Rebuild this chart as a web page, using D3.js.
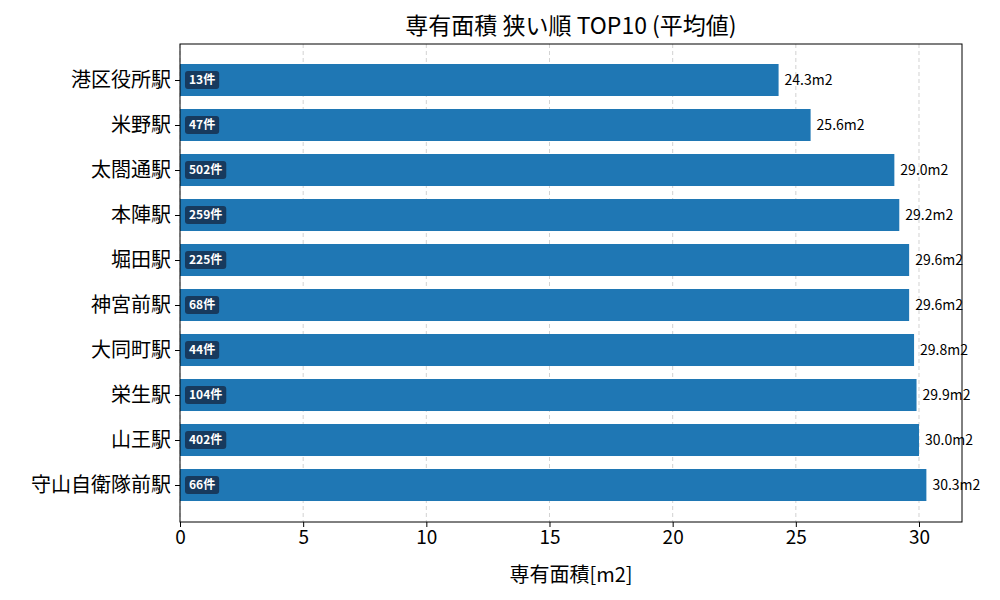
<!DOCTYPE html>
<html lang="ja">
<head>
<meta charset="utf-8">
<script src="https://d3js.org/d3.v7.min.js"></script>
<style>
body { margin: 0; background: #fff; }
text { font-family: "Noto Sans CJK JP", "Noto Sans", sans-serif; }
</style>
</head>
<body>
<script>
const stations = ["港区役所駅", "米野駅", "太閤通駅", "本陣駅", "堀田駅", "神宮前駅", "大同町駅", "栄生駅", "山王駅", "守山自衛隊前駅"];
const areas = [24.3, 25.6, 29.0, 29.2, 29.6, 29.6, 29.8, 29.9, 30.0, 30.3];
const counts = [13, 47, 502, 259, 225, 68, 44, 104, 402, 66];
const xTicks = [0, 5, 10, 15, 20, 25, 30];

const BLUE = "#1f77b4";
const W = 1000, H = 600;
const L = 180, R = 962, T = 44, B = 522;

const svg = d3.select("body").append("svg").attr("width", W).attr("height", H);

const x = d3.scaleLinear().domain([0, (R - L) / 24.633]).range([L, R]);
const y = d3.scaleLinear().domain([-0.8, 9.822]).range([T, B]);
const barH = 32;

// grid
svg.append("g").selectAll("line").data(xTicks).join("line")
    .attr("x1", d => x(d)).attr("x2", d => x(d))
    .attr("y1", T).attr("y2", B)
    .attr("stroke", "#b0b0b0").attr("stroke-width", 0.8)
    .attr("stroke-dasharray", "4,3").attr("opacity", 0.7);

// bars
svg.append("g").selectAll("rect").data(areas).join("rect")
    .attr("x", x(0)).attr("y", (d, i) => y(i) - barH / 2)
    .attr("width", d => x(d) - x(0)).attr("height", barH)
    .attr("fill", BLUE);

// value labels
svg.append("g").selectAll("text").data(areas).join("text")
    .attr("x", d => x(d) + 6).attr("y", (d, i) => y(i))
    .attr("dy", "0.35em").attr("font-size", 14).attr("fill", "#000")
    .text(d => d.toFixed(1) + "m2");

// count badges
const badges = svg.append("g").selectAll("g").data(counts).join("g")
    .attr("transform", (d, i) => `translate(${x(0) + 5},${y(i)})`);
badges.each(function (d) {
    const g = d3.select(this);
    const t = g.append("text").attr("x", 4).attr("dy", "0.35em")
        .attr("font-size", 12).attr("font-weight", "bold").attr("fill", "#fff")
        .text(d + "件");
    const w = t.node().getComputedTextLength();
    g.insert("rect", "text").attr("x", 0).attr("y", -9).attr("width", w + 8).attr("height", 18)
        .attr("rx", 3).attr("fill", "#173a5e");
});

// frame
svg.append("rect").attr("x", L).attr("y", T).attr("width", R - L).attr("height", B - T)
    .attr("fill", "none").attr("stroke", "#000").attr("stroke-width", 1);

// x axis
const xa = svg.append("g").attr("transform", `translate(0,${B})`)
    .call(d3.axisBottom(x).tickValues(xTicks).tickSize(5).tickPadding(4));
xa.select(".domain").remove();
xa.selectAll("text").attr("font-size", 19).attr("font-family", "'Noto Sans CJK JP', sans-serif");

// y labels
const ya = svg.append("g").attr("transform", `translate(${L},0)`)
    .call(d3.axisLeft(y).tickValues(d3.range(10)).tickFormat(i => stations[i]).tickSize(5).tickPadding(4));
ya.select(".domain").remove();
ya.selectAll("text").attr("font-size", 20).attr("font-family", "'Noto Sans CJK JP', sans-serif");

svg.append("text").attr("x", (L + R) / 2).attr("y", 34).attr("text-anchor", "middle")
    .attr("font-size", 23).text("専有面積 狭い順 TOP10 (平均値)");
svg.append("text").attr("x", (L + R) / 2).attr("y", 582).attr("text-anchor", "middle")
    .attr("font-size", 20).text("専有面積[m2]");
</script>
</body>
</html>
